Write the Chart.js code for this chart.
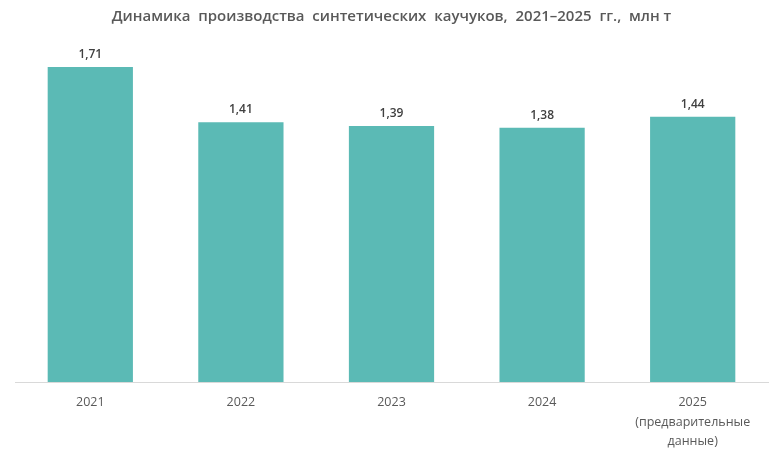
<!DOCTYPE html>
<html lang="ru">
<head>
<meta charset="utf-8">
<script src="https://cdn.jsdelivr.net/npm/chart.js@4"></script>
<style>
  html, body { margin: 0; padding: 0; background: #fff; }
  #wrap { width: 780px; height: 455px; }
</style>
</head>
<body>
<div id="wrap"><canvas id="rubberChart"></canvas></div>
<script>
// data
const years = ['2021', '2022', '2023', '2024', ['2025', '(предварительные', 'данные)']];
const output = [1.71, 1.41, 1.39, 1.38, 1.44];
const valueLabels = ['1,71', '1,41', '1,39', '1,38', '1,44'];

// value labels above bars
const barLabels = {
    id: 'barLabels',
    afterDatasetsDraw(chart) {
        const ctx = chart.ctx;
        const meta = chart.getDatasetMeta(0);
        ctx.save();
        ctx.font = '600 12px "Open Sans"';
        ctx.fillStyle = '#404040';
        ctx.textAlign = 'center';
        ctx.textBaseline = 'middle';
        meta.data.forEach((bar, i) => {
            ctx.fillText(valueLabels[i], bar.x, bar.y - 12.5);
        });
        ctx.restore();
    }
};

new Chart(document.getElementById('rubberChart'), {
    type: 'bar',
    data: {
        labels: years,
        datasets: [{
            data: output,
            backgroundColor: '#5BBAB5',
            categoryPercentage: 1,
            barPercentage: 0.566
        }]
    },
    options: {
        responsive: true,
        maintainAspectRatio: false,
        animation: false,
        layout: { padding: { left: 15, right: 12, bottom: 0 } },
        plugins: {
            legend: { display: false },
            tooltip: { enabled: false },
            title: {
                display: true,
                text: 'Динамика  производства  синтетических  каучуков,  2021–2025  гг.,  млн т',
                color: '#595959',
                font: { family: '"Open Sans"', size: 15, weight: '600' },
                padding: { top: 8, bottom: 6 }
            }
        },
        scales: {
            x: {
                grid: { display: false },
                border: { display: true, color: '#D9D9D9', width: 1 },
                ticks: {
                    color: '#595959',
                    font: { family: '"Open Sans"', size: 12.5, lineHeight: 1.55 },
                    padding: 3,
                    maxRotation: 0
                },
                afterFit(scale) { scale.height = 73; }
            },
            y: {
                display: false,
                min: 0,
                max: 1.9
            }
        }
    },
    plugins: [barLabels]
});
</script>
</body>
</html>
